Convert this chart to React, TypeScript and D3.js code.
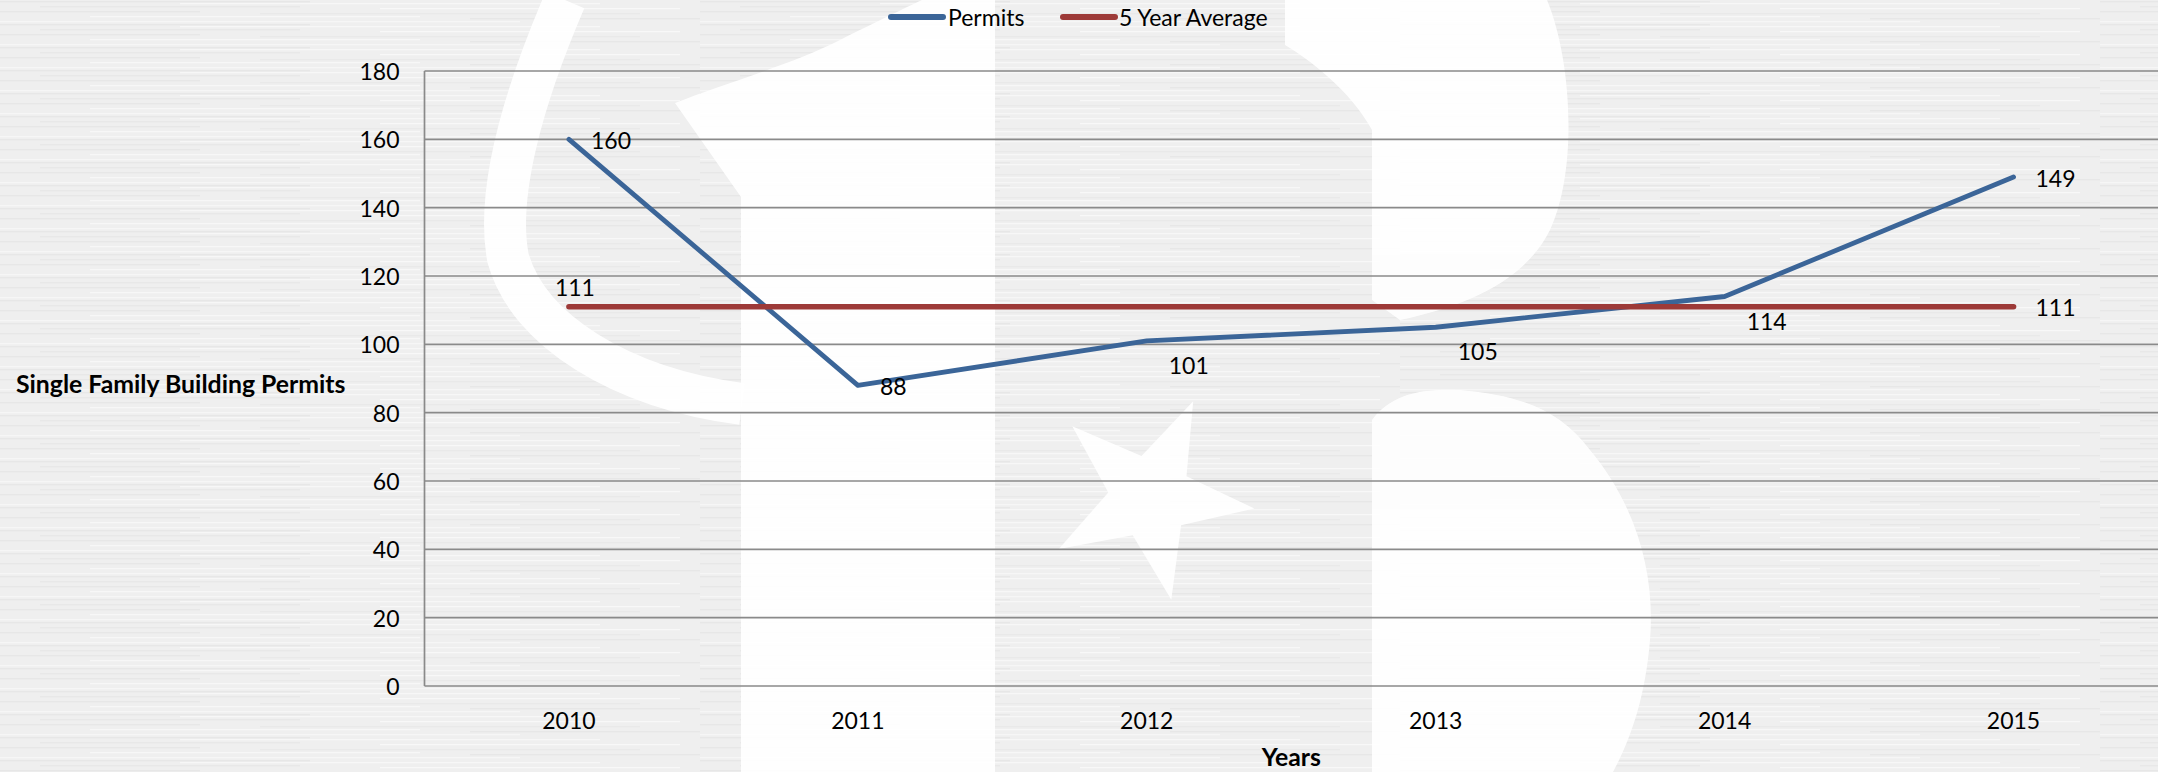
import { line, scaleLinear, scalePoint } from 'd3';
import { useEffect } from 'react';

const years = ['2010', '2011', '2012', '2013', '2014', '2015'];
const permits = [160, 88, 101, 105, 114, 149];
const fiveYearAverage = [111, 111, 111, 111, 111, 111];
const yTickValues = [0, 20, 40, 60, 80, 100, 120, 140, 160, 180];

const WIDTH = 2158;
const HEIGHT = 772;
const PLOT = { left: 424.5, right: 2158, top: 71, bottom: 686 };
const FONT = "Lato, 'Open Sans', sans-serif";
const BLUE = '#3b6598';
const RED = '#9d3a38';
const GRID = '#8a8a8a';
const LABEL_SIZE = 23;

function starPath(cx: number, cy: number, outer: number, inner: number, startDeg: number) {
  const pts: string[] = [];
  for (let i = 0; i < 10; i += 1) {
    const r = i % 2 === 0 ? outer : inner;
    const a = ((startDeg + i * 36) * Math.PI) / 180;
    pts.push(`${(cx + r * Math.cos(a)).toFixed(1)},${(cy + r * Math.sin(a)).toFixed(1)}`);
  }
  return `M${pts.join('L')}Z`;
}

// faint brushed streaks for the background texture
const streaks = [
  { y: 1, x: 0, w: 310, c: '#e7e7e7' },
  { y: 3, x: 180, w: 420, c: '#f7f7f7' },
  { y: 6, x: 40, w: 260, c: '#e8e8e8' },
  { y: 8, x: 380, w: 300, c: '#f8f8f8' },
  { y: 11, x: 0, w: 200, c: '#e7e7e7' },
  { y: 13, x: 260, w: 380, c: '#e9e9e9' },
  { y: 16, x: 90, w: 330, c: '#f7f7f7' },
  { y: 18, x: 470, w: 230, c: '#e7e7e7' },
  { y: 21, x: 0, w: 520, c: '#f6f6f6' },
];

export default function App() {
  useEffect(() => {
    document.body.style.margin = '0';
  }, []);

  const x = scalePoint<string>().domain(years).range([PLOT.left, PLOT.right]).padding(0.5);
  const y = scaleLinear().domain([0, 180]).range([PLOT.bottom, PLOT.top]);

  const lineGen = line<number>()
    .x((_, i) => x(years[i]) ?? 0)
    .y((d) => y(d));

  const avgY = y(fiveYearAverage[0]);
  const lastYear = years[years.length - 1];

  return (
    <svg width={WIDTH} height={HEIGHT} style={{ display: 'block' }} fontFamily={FONT}>
      <defs>
        <pattern id="brush" width="700" height="23" patternUnits="userSpaceOnUse">
          <rect width="700" height="23" fill="#efefef" />
          {streaks.map((s, i) => (
            <rect key={i} x={s.x} y={s.y} width={s.w} height={1.3} fill={s.c} />
          ))}
        </pattern>
      </defs>

      {/* background and faint logo watermark */}
      <rect width={WIDTH} height={HEIGHT} fill="url(#brush)" />
      <g fill="#ffffff" opacity={0.92}>
        <path d="M922 0 L995 0 L995 772 L741 772 L741 197 L675 103 C720 85 793 64 840 40 C880 20 905 8 922 0 Z" />
        <path d="M1285 0 L1547 0 C1572 60 1578 170 1550 230 C1525 280 1470 305 1400 320 L1372 300 L1372 130 C1350 90 1310 60 1285 45 Z" />
        <path d="M1372 420 C1390 395 1420 388 1460 390 C1520 395 1560 410 1590 450 C1640 510 1655 580 1650 640 C1645 700 1630 740 1613 772 L1372 772 Z" />
        <path d={starPath(1150, 497, 105, 42, -65.7)} />
      </g>
      <path
        d="M565 0 C522 100 496 195 508 258 C528 330 620 388 742 404"
        fill="none"
        stroke="#ffffff"
        strokeWidth={42}
        opacity={0.92}
      />

      {/* legend */}
      <g fontSize={LABEL_SIZE} fill="#000">
        <line x1={891} x2={943} y1={17} y2={17} stroke={BLUE} strokeWidth={6} strokeLinecap="round" />
        <text x={948} y={17} dominantBaseline="central">Permits</text>
        <line x1={1063} x2={1115} y1={17} y2={17} stroke={RED} strokeWidth={6} strokeLinecap="round" />
        <text x={1119} y={17} dominantBaseline="central">5 Year Average</text>
      </g>

      {/* grid and axis */}
      <g>
        {yTickValues.map((t) => (
          <g key={t}>
            <line x1={PLOT.left} x2={PLOT.right} y1={y(t)} y2={y(t)} stroke={GRID} strokeWidth={1.7} />
            <text x={PLOT.left - 25} y={y(t)} textAnchor="end" dominantBaseline="central" fontSize={LABEL_SIZE}>
              {t}
            </text>
          </g>
        ))}
        <line x1={PLOT.left} x2={PLOT.left} y1={PLOT.top} y2={PLOT.bottom} stroke={GRID} strokeWidth={1.7} />
        {years.map((yr) => (
          <text key={yr} x={x(yr)} y={720} textAnchor="middle" dominantBaseline="central" fontSize={LABEL_SIZE}>
            {yr}
          </text>
        ))}
      </g>

      {/* series */}
      <path d={lineGen(permits) ?? ''} fill="none" stroke={BLUE} strokeWidth={4.8} strokeLinejoin="round" strokeLinecap="round" />
      <path d={lineGen(fiveYearAverage) ?? ''} fill="none" stroke={RED} strokeWidth={5.6} strokeLinecap="round" />

      {/* data labels */}
      <g fontSize={LABEL_SIZE}>
        {permits.map((v, i) => {
          const nearAverage = Math.abs(v - fiveYearAverage[i]) < 15;
          return (
            <text
              key={years[i]}
              x={(x(years[i]) ?? 0) + 22}
              y={y(v) + (nearAverage ? 24 : 1)}
              dominantBaseline="central"
            >
              {v}
            </text>
          );
        })}
        <text x={(x(years[0]) ?? 0) + 6} y={avgY - 20} textAnchor="middle" dominantBaseline="central">
          {fiveYearAverage[0]}
        </text>
        <text x={(x(lastYear) ?? 0) + 22} y={avgY} dominantBaseline="central">
          {fiveYearAverage[fiveYearAverage.length - 1]}
        </text>
      </g>

      {/* axis titles */}
      <text x={16} y={383} dominantBaseline="central" fontSize={24.8} fontWeight="bold">
        Single Family Building Permits
      </text>
      <text x={(PLOT.left + PLOT.right) / 2} y={756} textAnchor="middle" dominantBaseline="central" fontSize={24.8} fontWeight="bold">
        Years
      </text>
    </svg>
  );
}
